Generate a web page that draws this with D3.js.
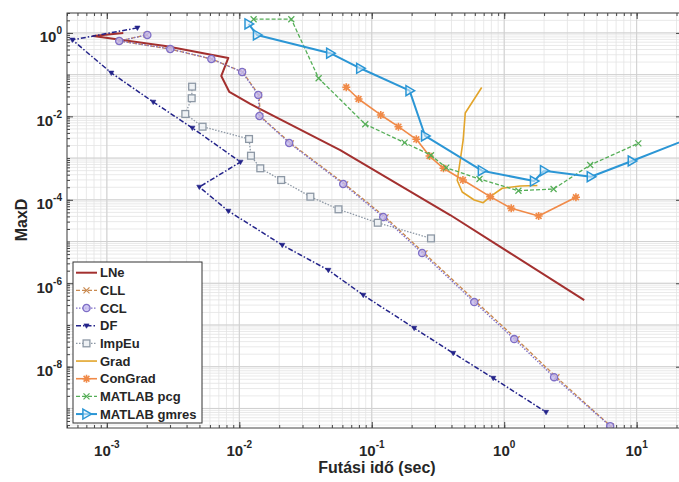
<!DOCTYPE html>
<html>
<head>
<meta charset="utf-8">
<script src="https://cdn.jsdelivr.net/npm/d3@7"></script>
<style>
  body { margin: 0; background: #fff; }
  text { font-family: "Liberation Sans", Arial, sans-serif; font-weight: bold; fill: #262626; }
</style>
</head>
<body>
<svg id="chart" width="679" height="482"></svg>
<script>
// values: running time (sec) vs MaxD
var names = ["LNe", "CLL", "CCL", "DF", "ImpEu", "Grad", "ConGrad", "MATLAB pcg", "MATLAB gmres"];

var lneTime = [1.33e-3, 7.9e-4, 2.76e-3, 8.26e-3, 7.31e-3, 8.41e-3, 0.0121, 0.0578, 0.391, 4.02];
var lneMaxD = [1.0, 0.848, 0.488, 0.251, 0.093, 0.0385, 0.0198, 1.56e-3, 4.32e-5, 3.96e-7];

var cllTime = [2.0e-3, 1.24e-3, 3.0e-3, 6.2e-3, 0.0106, 0.0141, 0.0144, 0.0245, 0.063, 0.127, 0.25, 0.62, 1.24, 2.48, 6.4];
var cllMaxD = [0.9, 0.64, 0.41, 0.236, 0.115, 0.0322, 0.0101, 2.25e-3, 2.35e-4, 3.8e-5, 5.2e-6, 3.5e-7, 4.6e-8, 5.6e-9, 3.7e-10];

var cclTime = [2.02e-3, 1.24e-3, 3.01e-3, 6.15e-3, 0.0105, 0.0139, 0.0142, 0.0238, 0.0609, 0.122, 0.24, 0.594, 1.19, 2.38, 6.31];
var cclMaxD = [0.895, 0.643, 0.413, 0.238, 0.116, 0.0326, 0.0102, 2.3e-3, 2.39e-4, 3.87e-5, 5.3e-6, 3.54e-7, 4.59e-8, 5.63e-9, 3.77e-10];

var dfTime = [1.7e-3, 5.49e-4, 1.08e-3, 2.24e-3, 4.42e-3, 0.0102, 4.99e-3, 8.26e-3, 0.0211, 0.047, 0.0863, 0.209, 0.412, 0.826, 2.07];
var dfMaxD = [1.32, 0.68, 0.11, 0.0221, 5.27e-3, 8.06e-4, 2.03e-4, 5.39e-5, 8.24e-6, 2.07e-6, 5.21e-7, 8.43e-8, 2.12e-8, 5.33e-9, 8.15e-10];

var impTime = [4.4e-3, 4.37e-3, 3.91e-3, 5.28e-3, 0.01184, 0.01225, 0.0144, 0.0207, 0.0344, 0.0561, 0.111, 0.28];
var impMaxD = [0.0515, 0.0272, 0.01142, 5.66e-3, 2.87e-3, 1.14e-3, 5.69e-4, 2.98e-4, 1.19e-4, 5.92e-5, 2.82e-5, 1.19e-5];

var gradTime = [0.676, 0.508, 0.49, 0.466, 0.442, 0.482, 0.594, 0.694, 0.784, 0.966, 1.32, 1.78];
var gradMaxD = [0.0493, 0.01207, 2.72e-3, 9.0e-4, 2.9e-4, 1.54e-4, 9.89e-5, 8.52e-5, 1.19e-4, 1.89e-4, 2.14e-4, 2.2e-4];

var cgTime = [0.0642, 0.0795, 0.117, 0.159, 0.217, 0.273, 0.348, 0.488, 0.784, 1.13, 1.82, 3.48];
var cgMaxD = [0.0499, 0.0261, 0.0108, 5.66e-3, 2.82e-3, 1.12e-3, 5.69e-4, 2.98e-4, 1.19e-4, 6.25e-5, 4.09e-5, 1.15e-4];

var pcgTime = [0.01282, 0.0247, 0.0397, 0.0893, 0.177, 0.28, 0.365, 0.651, 1.28, 2.36, 4.46, 10.3];
var pcgMaxD = [2.13, 2.13, 0.082, 6.47e-3, 2.34e-3, 1.17e-3, 5.89e-4, 3.15e-4, 1.65e-4, 1.82e-4, 6.83e-4, 2.26e-3];

var gmresTime = [0.01175, 0.01361, 0.0486, 0.0819, 0.193, 0.253, 0.679, 1.68, 2.0, 4.51, 9.2, 30];
var gmresMaxD = [1.64, 0.895, 0.326, 0.142, 0.0413, 3.39e-3, 4.99e-4, 2.82e-4, 4.99e-4, 3.58e-4, 8.52e-4, 3.7e-3];

var xTickExp = [-3, -2, -1, 0, 1];          // labelled x ticks: 10^e
var yTickExp = [0, -2, -4, -6, -8];         // labelled y ticks: 10^e

// plot box (note: "top" is reserved on window, so use a box object)
var box = { left: 67, right: 682, top: 13, bottom: 428 };

var svg = d3.select("#chart");

var x = d3.scaleLog().domain([5e-4, 22]).range([box.left, box.right]);
var y = d3.scaleLog().domain([3.4e-10, 3]).range([box.bottom, box.top]);

// all 1..9 * 10^k values inside a domain
function logSteps(dom) {
	var out = [];
	for (var k = -11; k <= 2; k++) {
		for (var m = 1; m <= 9; m++) {
			var v = m * Math.pow(10, k);
			if (v >= dom[0] && v <= dom[1]) out.push(v);
		}
	}
	return out;
}
function isDecade(d) { return Math.abs(Math.log10(d) - Math.round(Math.log10(d))) < 1e-9; }
var xAll = logSteps(x.domain());
var yAll = logSteps(y.domain());
var xDecades = xAll.filter(isDecade);
var yDecades = yAll.filter(isDecade);

// grid (minor first, decades on top)
var grid = svg.append("g");
function vLines(vals, color, w) {
	grid.append("g").selectAll("line").data(vals).join("line")
		.attr("x1", function (d) { return x(d); }).attr("x2", function (d) { return x(d); })
		.attr("y1", box.top).attr("y2", box.bottom)
		.attr("stroke", color).attr("stroke-width", w);
}
function hLines(vals, color, w) {
	grid.append("g").selectAll("line").data(vals).join("line")
		.attr("y1", function (d) { return y(d); }).attr("y2", function (d) { return y(d); })
		.attr("x1", box.left).attr("x2", box.right)
		.attr("stroke", color).attr("stroke-width", w);
}
vLines(xAll, "#e3e3e3", 0.8);
hLines(yAll, "#e3e3e3", 0.8);
vLines(xDecades, "#d0d0d0", 1);
hLines(yDecades, "#d0d0d0", 1);

// tick marks on all four sides, pointing inward
var xMajor = xTickExp.map(function (e) { return Math.pow(10, e); });
var yMajor = yTickExp.map(function (e) { return Math.pow(10, e); });

function ticks(axisFn, scale, vals, size, tr) {
	svg.append("g")
		.attr("transform", tr)
		.call(axisFn(scale).tickValues(vals).tickSize(size).tickFormat(""))
		.call(function (g) { g.select(".domain").remove(); g.selectAll("line").attr("stroke", "#444"); });
}
ticks(d3.axisBottom, x, xAll, -3, "translate(0," + box.bottom + ")");
ticks(d3.axisBottom, x, xMajor, -6, "translate(0," + box.bottom + ")");
ticks(d3.axisTop, x, xAll, -3, "translate(0," + box.top + ")");
ticks(d3.axisTop, x, xMajor, -6, "translate(0," + box.top + ")");
ticks(d3.axisLeft, y, yAll, -3, "translate(" + box.left + ",0)");
ticks(d3.axisLeft, y, yMajor, -6, "translate(" + box.left + ",0)");
ticks(d3.axisRight, y, yAll, -3, "translate(" + box.right + ",0)");
ticks(d3.axisRight, y, yMajor, -6, "translate(" + box.right + ",0)");

// tick labels 10^e
xTickExp.forEach(function (e) {
	var t = svg.append("text").attr("x", x(Math.pow(10, e))).attr("y", 456)
		.attr("text-anchor", "middle").attr("font-size", 15);
	t.append("tspan").text("10");
	t.append("tspan").attr("dy", -8).attr("font-size", 10).text(e);
});
yTickExp.forEach(function (e) {
	var t = svg.append("text").attr("x", 62).attr("y", y(Math.pow(10, e)) + 9.5)
		.attr("text-anchor", "end").attr("font-size", 15);
	t.append("tspan").text("10");
	t.append("tspan").attr("dy", -8).attr("font-size", 10).text(e);
});

// axis titles
svg.append("text").attr("x", 377).attr("y", 473).attr("text-anchor", "middle")
	.attr("font-size", 16).text("Futási idő (sec)");
svg.append("text").attr("transform", "translate(27,220) rotate(-90)")
	.attr("text-anchor", "middle").attr("font-size", 16).text("MaxD");

// markers
function drawMarker(g, type, color) {
	if (type == "x") {
		g.append("path").attr("d", "M-3,-3L3,3M-3,3L3,-3").attr("stroke", color).attr("stroke-width", 1.2).attr("fill", "none");
	} else if (type == "circle") {
		g.append("circle").attr("r", 3.6).attr("fill", "#c4baf0").attr("fill-opacity", 0.8)
			.attr("stroke", color).attr("stroke-width", 1.3);
	} else if (type == "tri") {
		g.append("path").attr("d", "M-2.6,-1.8L2.6,-1.8L0,2.6Z").attr("fill", color).attr("stroke", color).attr("stroke-width", 0.6);
	} else if (type == "square") {
		g.append("rect").attr("x", -3.4).attr("y", -3.4).attr("width", 6.8).attr("height", 6.8)
			.attr("fill", "#eef1f4").attr("stroke", color).attr("stroke-width", 1.3);
	} else if (type == "star") {
		g.append("path").attr("d", "M-4,0L4,0M0,-4L0,4M-2.9,-2.9L2.9,2.9M-2.9,2.9L2.9,-2.9")
			.attr("stroke", color).attr("stroke-width", 1.6).attr("fill", "none");
	} else if (type == "rtri") {
		g.append("path").attr("d", "M-3.6,-5L5,0L-3.6,5Z").attr("fill", "#dff0fb").attr("fill-opacity", 0.6)
			.attr("stroke", color).attr("stroke-width", 1.5);
	}
}

var series = [
	{ name: names[0], t: lneTime, v: lneMaxD, color: "#a3302f", width: 2, dash: null, marker: null },
	{ name: names[1], t: cllTime, v: cllMaxD, color: "#c98a50", width: 1.3, dash: "4,2", marker: "x" },
	{ name: names[2], t: cclTime, v: cclMaxD, color: "#7f6fc6", width: 1.3, dash: "1.5,1.5", marker: "circle" },
	{ name: names[3], t: dfTime, v: dfMaxD, color: "#23238a", width: 1.5, dash: "5,2,1.5,2", marker: "tri" },
	{ name: names[4], t: impTime, v: impMaxD, color: "#8d98a5", width: 1.3, dash: "1.5,1.5", marker: "square" },
	{ name: names[5], t: gradTime, v: gradMaxD, color: "#e2a42a", width: 1.6, dash: null, marker: null },
	{ name: names[6], t: cgTime, v: cgMaxD, color: "#f08a48", width: 1.6, dash: null, marker: "star" },
	{ name: names[7], t: pcgTime, v: pcgMaxD, color: "#55ae57", width: 1.3, dash: "4,2", marker: "x" },
	{ name: names[8], t: gmresTime, v: gmresMaxD, color: "#2b96d5", width: 2, dash: null, marker: "rtri" }
];

svg.append("clipPath").attr("id", "plotclip").append("rect")
	.attr("x", box.left).attr("y", box.top).attr("width", box.right - box.left).attr("height", box.bottom - box.top);

var plot = svg.append("g").attr("clip-path", "url(#plotclip)");
var line = d3.line().x(function (d) { return x(d[0]); }).y(function (d) { return y(d[1]); });

series.forEach(function (s) {
	var pts = d3.zip(s.t, s.v);
	plot.append("path").datum(pts)
		.attr("fill", "none").attr("stroke", s.color).attr("stroke-width", s.width)
		.attr("stroke-linejoin", "round")
		.attr("stroke-dasharray", s.dash)
		.attr("d", line);
	if (s.marker) {
		plot.append("g").selectAll("g").data(pts).join("g")
			.attr("transform", function (d) { return "translate(" + x(d[0]) + "," + y(d[1]) + ")"; })
			.each(function () { drawMarker(d3.select(this), s.marker, s.color); });
	}
});

// box
svg.append("rect").attr("x", box.left).attr("y", box.top).attr("width", box.right - box.left).attr("height", box.bottom - box.top)
	.attr("fill", "none").attr("stroke", "#444").attr("stroke-width", 1);

// legend
var lg = svg.append("g");
lg.append("rect").attr("x", 73).attr("y", 262).attr("width", 129).attr("height", 161)
	.attr("fill", "#fff").attr("stroke", "#333").attr("stroke-width", 1);
series.forEach(function (s, i) {
	var cy = 272.7 + i * 17.67;
	lg.append("line").attr("x1", 76).attr("x2", 97).attr("y1", cy).attr("y2", cy)
		.attr("stroke", s.color).attr("stroke-width", s.width).attr("stroke-dasharray", s.dash);
	if (s.marker) drawMarker(lg.append("g").attr("transform", "translate(86.5," + cy + ")"), s.marker, s.color);
	lg.append("text").attr("x", 100).attr("y", cy + 4.6).attr("font-size", 13).text(s.name);
});
</script>
</body>
</html>
